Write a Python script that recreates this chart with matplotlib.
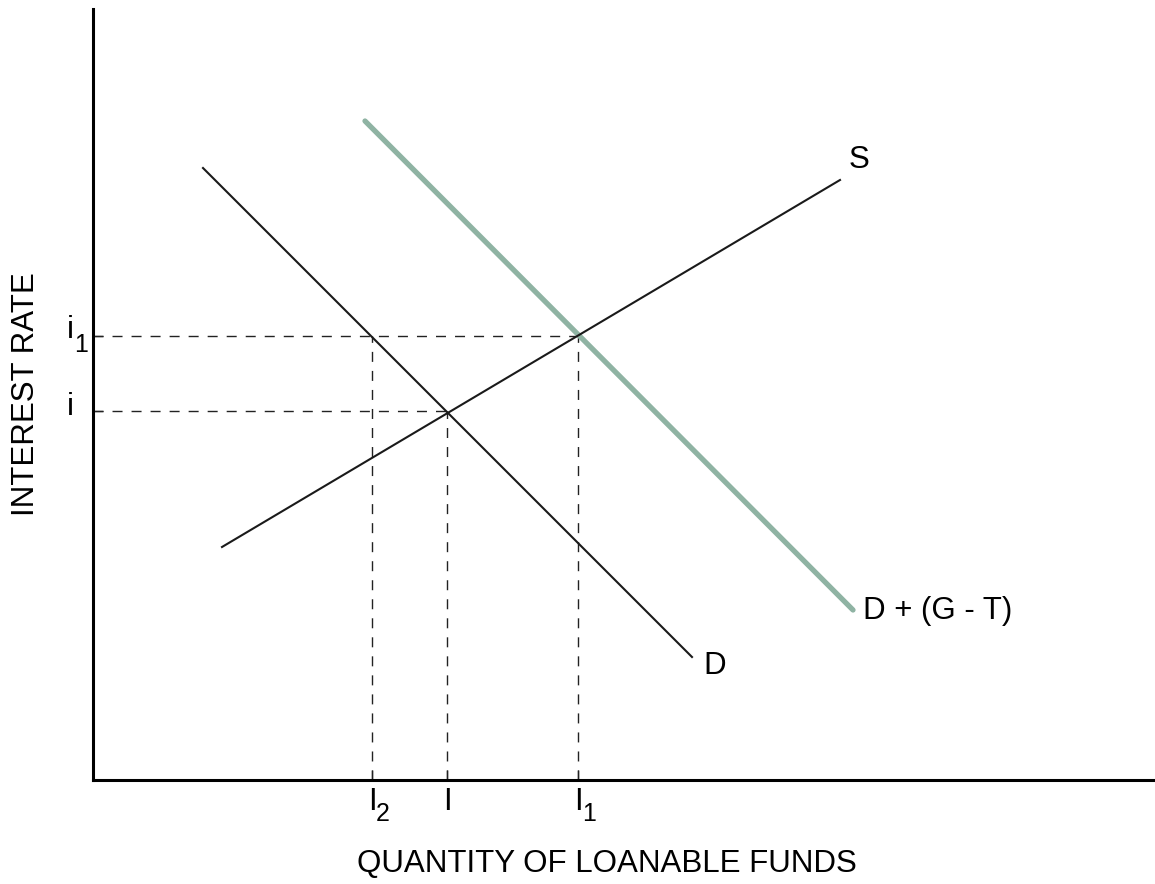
import matplotlib.pyplot as plt

# ==========================
# Data (x, y in chart units)
# ==========================

supply_x = [129, 747]
supply_y = [233, 600]

demand_x = [110, 599]
demand_y = [612, 123]

shifted_x = [272, 760]
shifted_y = [659, 170]

rate_i1 = 444
rate_i = 369

qty_I2 = 279
qty_I = 354
qty_I1 = 485

x_max = 1062
y_max = 771

plt.rcParams['font.family'] = ['Liberation Sans', 'DejaVu Sans']

# ==========================
# Figure
# ==========================

fig = plt.figure(
    figsize=(11.55, 8.84),
    dpi=100
)

ax = fig.add_axes(
    [93 / 1155, 104 / 884, 1 - 93 / 1155, 771 / 884]
)

ax.set_xlim(0, x_max)
ax.set_ylim(0, y_max)

for side in ['top', 'right']:
    ax.spines[side].set_visible(False)

for side in ['left', 'bottom']:
    ax.spines[side].set_linewidth(2.2)

ax.set_xticks([qty_I2, qty_I, qty_I1])
ax.set_yticks([rate_i, rate_i1])
ax.set_xticklabels([])
ax.set_yticklabels([])
ax.tick_params(
    direction='in',
    length=7,
    width=1,
    color='#333333'
)

# ==========================
# Dashed guides
# ==========================

dash_style = dict(
    color='#222222',
    lw=1.0,
    dashes=(7.2, 6.5)
)

ax.plot([0, qty_I1], [rate_i1, rate_i1], **dash_style)
ax.plot([0, qty_I], [rate_i, rate_i], **dash_style)
ax.plot([qty_I2, qty_I2], [0, rate_i1], **dash_style)
ax.plot([qty_I, qty_I], [0, rate_i], **dash_style)
ax.plot([qty_I1, qty_I1], [0, rate_i1], **dash_style)

# ==========================
# Curves
# ==========================

ax.plot(
    shifted_x,
    shifted_y,
    color='#8fb3a3',
    lw=3.8,
    solid_capstyle='round'
)

ax.plot(supply_x, supply_y, color='#1a1a1a', lw=1.5)
ax.plot(demand_x, demand_y, color='#1a1a1a', lw=1.5)

# ==========================
# Labels
# ==========================

fs = 22.5
fs_sub = 18

ax.text(766, 620, 'S', fontsize=fs, ha='center', va='center')
ax.text(622, 114, 'D', fontsize=fs, ha='center', va='center')
ax.text(770, 169, 'D + (G - T)', fontsize=fs, ha='left', va='center')

# y-axis labels
ax.text(-23, rate_i1 + 6, 'i', fontsize=fs, ha='center', va='center', clip_on=False)
ax.text(-12, rate_i1 - 9, '1', fontsize=fs_sub, ha='center', va='center', clip_on=False)
ax.text(-23, rate_i + 4, 'i', fontsize=fs, ha='center', va='center', clip_on=False)

# x-axis labels
ax.text(qty_I2, -22, 'I', fontsize=fs, ha='center', va='center', clip_on=False)
ax.text(qty_I2 + 11, -34, '2', fontsize=fs_sub, ha='center', va='center', clip_on=False)
ax.text(qty_I, -22, 'I', fontsize=fs, ha='center', va='center', clip_on=False)
ax.text(qty_I1, -22, 'I', fontsize=fs, ha='center', va='center', clip_on=False)
ax.text(qty_I1 + 11, -34, '1', fontsize=fs_sub, ha='center', va='center', clip_on=False)

fig.text(
    26 / 1155,
    1 - 394 / 884,
    'INTEREST RATE',
    fontsize=fs,
    rotation=90,
    ha='center',
    va='center'
)

fig.text(
    607 / 1155,
    1 - 864 / 884,
    'QUANTITY OF LOANABLE FUNDS',
    fontsize=fs,
    ha='center',
    va='center'
)

plt.savefig("out.png", dpi=100)
plt.close()
